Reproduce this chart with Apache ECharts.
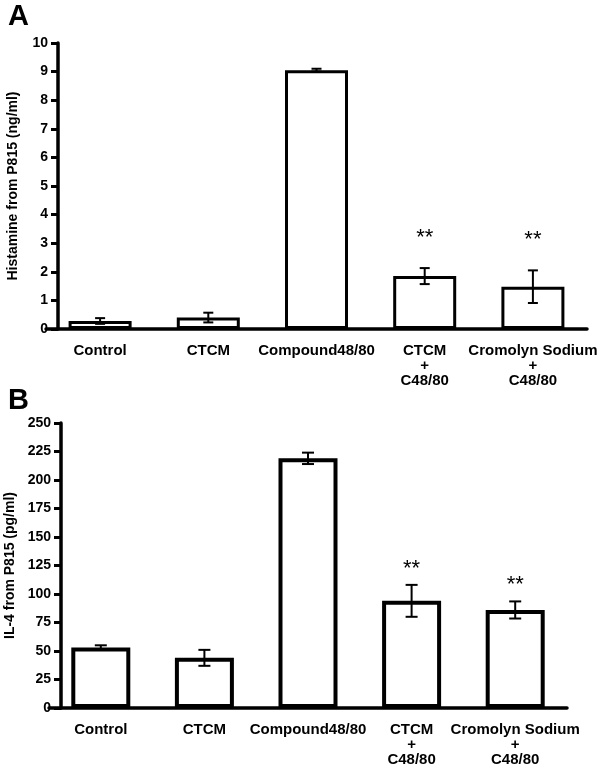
<!DOCTYPE html>
<html>
<head>
<meta charset="utf-8">
<script src="https://cdn.jsdelivr.net/npm/echarts@6/dist/echarts.min.js"></script>
<style>
html,body{margin:0;padding:0;background:#fff;}
#chart{width:600px;height:764px;}
</style>
</head>
<body>
<div id="chart"></div>
<script>
// ---- data ----
var categories = ['Control', 'CTCM', 'Compound48/80', 'CTCM\n+\nC48/80', 'Cromolyn Sodium\n+\nC48/80'];
var histamineMean = [0.28, 0.40, 9.05, 1.85, 1.48];
var histamineErr  = [0.10, 0.17, 0.05, 0.28, 0.57];
var il4Mean = [53, 44, 219, 94, 86];
var il4Err  = [2, 7, 5, 14, 7.5];
var significance = ['', '', '', '**', '**'];
var histamineTicks = { min: 0, max: 10, interval: 1 };
var il4Ticks = { min: 0, max: 250, interval: 25 };

var FONT = '"Liberation Sans", Arial, sans-serif';

function errRender(stars, gap, cap) {
  return function (params, api) {
    var i = api.value(0), v = api.value(1), e = api.value(2);
    var top = api.coord([i, v + e]);
    var bot = api.coord([i, v - e]);
    var st = { stroke: '#000', lineWidth: 2 };
    var children = [
      { type: 'line', shape: { x1: top[0], y1: top[1], x2: bot[0], y2: bot[1] }, style: st },
      { type: 'line', shape: { x1: top[0] - cap, y1: top[1], x2: top[0] + cap, y2: top[1] }, style: st },
      { type: 'line', shape: { x1: bot[0] - cap, y1: bot[1], x2: bot[0] + cap, y2: bot[1] }, style: st }
    ];
    if (stars[i]) {
      children.push({
        type: 'text', x: top[0], y: top[1] - gap,
        style: { text: stars[i], align: 'center', verticalAlign: 'bottom', font: '22px ' + FONT, fill: '#000' }
      });
    }
    return { type: 'group', children: children };
  };
}

function errData(mean, err) {
  return mean.map(function (m, i) { return [i, m, err[i]]; });
}

var axisLine = { lineStyle: { color: '#000', width: 3.5 } };
var axisTick = { length: 7, lineStyle: { color: '#000', width: 3 } };
var tickLabel = { color: '#000', fontWeight: 'bold', fontSize: 14, fontFamily: FONT };
var catLabel = { color: '#000', fontWeight: 'bold', fontSize: 15, fontFamily: FONT, lineHeight: 15, margin: 14, interval: 0 };

var option = {
  backgroundColor: '#fff',
  animation: false,
  title: [
    { text: 'A', left: 3, top: -3, textStyle: { fontSize: 29, fontWeight: 'bold', fontFamily: FONT, color: '#000' } },
    { text: 'B', left: 3, top: 381, textStyle: { fontSize: 29, fontWeight: 'bold', fontFamily: FONT, color: '#000' } }
  ],
  grid: [
    { left: 46, top: 43, width: 541, height: 286, outerBoundsMode: 'none', containLabel: false },
    { left: 49, top: 423, width: 518, height: 285, outerBoundsMode: 'none', containLabel: false }
  ],
  xAxis: [
    { type: 'category', gridIndex: 0, data: categories, axisLine: axisLine,
      axisTick: Object.assign({ alignWithLabel: true }, axisTick), axisLabel: catLabel },
    { type: 'category', gridIndex: 1, data: categories, axisLine: axisLine,
      axisTick: Object.assign({ alignWithLabel: true }, axisTick), axisLabel: catLabel }
  ],
  yAxis: [
    { type: 'value', gridIndex: 0, min: histamineTicks.min, max: histamineTicks.max, interval: histamineTicks.interval,
      offset: -12, splitLine: { show: false }, axisLine: Object.assign({ show: true }, axisLine), axisTick: Object.assign({ show: true }, axisTick),
      axisLabel: Object.assign({ margin: 10 }, tickLabel),
      name: 'Histamine from P815 (ng/ml)', nameLocation: 'middle', nameGap: 38,
      nameTextStyle: { color: '#000', fontWeight: 'bold', fontSize: 14, fontFamily: FONT } },
    { type: 'value', gridIndex: 1, min: il4Ticks.min, max: il4Ticks.max, interval: il4Ticks.interval,
      offset: -12, splitLine: { show: false }, axisLine: Object.assign({ show: true }, axisLine), axisTick: Object.assign({ show: true }, axisTick),
      axisLabel: Object.assign({ margin: 10 }, tickLabel),
      name: 'IL-4 from P815 (pg/ml)', nameLocation: 'middle', nameGap: 38,
      nameTextStyle: { color: '#000', fontWeight: 'bold', fontSize: 14, fontFamily: FONT } }
  ],
  series: [
    { type: 'bar', xAxisIndex: 0, yAxisIndex: 0, data: histamineMean, barWidth: 63,
      itemStyle: { color: '#fff', borderColor: '#000', borderWidth: 3 } },
    { type: 'custom', xAxisIndex: 0, yAxisIndex: 0, data: errData(histamineMean, histamineErr),
      encode: { x: 0, y: 1 }, renderItem: errRender(significance, 19, 5), z: 5 },
    { type: 'bar', xAxisIndex: 1, yAxisIndex: 1, data: il4Mean, barWidth: 59,
      itemStyle: { color: '#fff', borderColor: '#000', borderWidth: 4 } },
    { type: 'custom', xAxisIndex: 1, yAxisIndex: 1, data: errData(il4Mean, il4Err),
      encode: { x: 0, y: 1 }, renderItem: errRender(significance, 5, 6), z: 5 }
  ]
};

var chart = echarts.init(document.getElementById('chart'), null, { renderer: 'canvas' });
chart.setOption(option);
</script>
</body>
</html>
